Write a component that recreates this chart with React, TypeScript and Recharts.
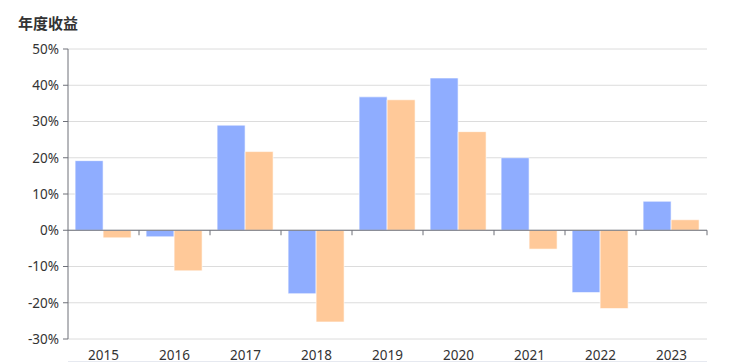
import React from 'react';
import { BarChart, Bar, XAxis, YAxis, CartesianGrid, ReferenceLine } from 'recharts';

const years = ['2015', '2016', '2017', '2018', '2019', '2020', '2021', '2022', '2023'];
const fundReturns = [19.2, -1.8, 29.0, -17.5, 36.8, 42.0, 20.0, -17.2, 8.0];
const benchReturns = [-2.1, -11.2, 21.7, -25.3, 36.0, 27.2, -5.2, -21.6, 2.9];
const yTicks = [-30, -20, -10, 0, 10, 20, 30, 40, 50];

const data = years.map((year, i) => ({ year, fund: fundReturns[i], bench: benchReturns[i] }));

const FONT = '"Noto Sans", "Noto Sans CJK SC", sans-serif';

// zero line acting as the category axis, with ticks on the band edges
const ZeroAxis = (props: any) => {
  const { x1, y1, x2, y2 } = props;
  const step = (x2 - x1) / years.length;
  const ticks = [];
  for (let i = 1; i <= years.length; i++) {
    const x = x1 + step * i;
    ticks.push(<line key={i} x1={x} y1={y1} x2={x} y2={y1 + 5} stroke="#6e7079" strokeWidth={1} />);
  }
  return (
    <g>
      <line x1={x1} y1={y1} x2={x2} y2={y2} stroke="#6e7079" strokeWidth={1} />
      {ticks}
    </g>
  );
};

export default function App() {
  return (
    <div style={{ position: 'absolute', left: 0, top: 0, width: 737, height: 363, background: '#fff', fontFamily: FONT }}>
      <div style={{ position: 'absolute', left: 18, top: 12, fontSize: 15, fontWeight: 700, color: '#333', fontFamily: '"Noto Sans CJK SC", sans-serif' }}>
        年度收益
      </div>
      <div style={{ position: 'absolute', left: 68, top: 361, width: 639, height: 1, background: '#e6e9f0' }} />
      <BarChart
        width={737}
        height={363}
        data={data}
        margin={{ top: 49, right: 30, bottom: 0, left: 0 }}
        barCategoryGap="10%"
        barGap={0}
      >
        <CartesianGrid vertical={false} stroke="#dcdcdc" />
        <XAxis
          dataKey="year"
          axisLine={false}
          tickLine={false}
          height={24}
          tickMargin={5}
          tick={{ fill: '#333', fontSize: 13.5, fontFamily: FONT }}
          interval={0}
        />
        <YAxis
          domain={[-30, 50]}
          ticks={yTicks}
          width={68}
          tickFormatter={(v: number) => `${v}%`}
          axisLine={{ stroke: '#6e7079' }}
          tickLine={{ stroke: '#6e7079' }}
          tickSize={5}
          tickMargin={4}
          tick={{ fill: '#333', fontSize: 13.5, fontFamily: FONT }}
          interval={0}
        />
        <Bar dataKey="fund" fill="#8fadff" stroke="rgba(255,255,255,0.6)" strokeWidth={1} isAnimationActive={false} />
        <Bar dataKey="bench" fill="#ffc999" stroke="rgba(255,255,255,0.6)" strokeWidth={1} isAnimationActive={false} />
        <ReferenceLine y={0} shape={ZeroAxis} />
      </BarChart>
    </div>
  );
}
